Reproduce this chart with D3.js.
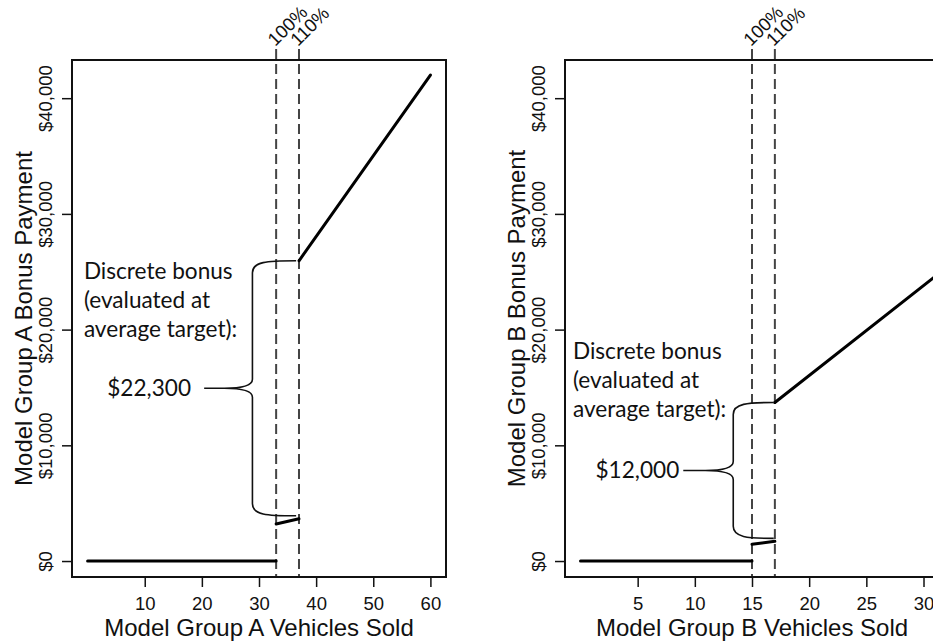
<!DOCTYPE html>
<html>
<head>
<meta charset="utf-8">
<script src="https://cdn.jsdelivr.net/npm/d3@7"></script>
<style>
  html, body { margin: 0; padding: 0; background: #fff; }
  svg { display: block; }
</style>
</head>
<body>
<svg id="chart" width="933" height="643"></svg>
<script>
// Tick values and labels
const xTicksA = [10, 20, 30, 40, 50, 60];
const xTicksB = [5, 10, 15, 20, 25, 30];
const yTicks = [0, 10000, 20000, 30000, 40000];
const targetLabels = ["100%", "110%"];

// Sales thresholds (100% and 110% of target)
const targetsA = [33, 37];
const targetsB = [15, 17];

// Discrete bonus paid when reaching the 110% threshold
const bonusA = 22300;
const bonusB = 12000;

// Payment schedule, Model Group A: [vehicles sold, bonus payment]
const baseA = [[0, 0], [33, 0]];
const tierA = [[33, 3200], [37, 3650]];
const stretchA = [[37, 3650 + bonusA], [60, 42000]];

// Payment schedule, Model Group B
const baseB = [[0, 0], [15, 0]];
const tierB = [[15, 1450], [17, 1700]];
const stretchB = [[17, 1700 + bonusB], [31, 24580]];

const svg = d3.select("#chart");
const plotTop = 60, plotBottom = 577;
const y = d3.scaleLinear().domain([-1380, 43300]).range([plotBottom, plotTop]);
const fmt = d => "$" + d3.format(",")(d);
const sans = "Liberation Sans, Arial, sans-serif";

const panels = [
  {
    left: 72, xDomain: [-2.73, 62.73], xTicks: xTicksA, targets: targetsA,
    series: [baseA, tierA, stretchA], bonus: bonusA,
    xTitle: "Model Group A Vehicles Sold", yTitle: "Model Group A Bonus Payment",
    note: { x: -0.65, y0: 279 }, brace: { x: 28.85, tip: 36.5, cusp: 20.4 }, labelX: 18.1
  },
  {
    left: 565, xDomain: [-1.355, 31.355], xTicks: xTicksB, targets: targetsB,
    series: [baseB, tierB, stretchB], bonus: bonusB,
    xTitle: "Model Group B Vehicles Sold", yTitle: "Model Group B Bonus Payment",
    note: { x: -0.66, y0: 359 }, brace: { x: 13.36, tip: 16.9, cusp: 8.99 }, labelX: 8.64
  }
];

const noteLines = ["Discrete bonus", "(evaluated at", "average target):"];
const line = d3.line().x(d => d[0]).y(d => d[1]);

panels.forEach(p => {
  const width = 374;
  const x = d3.scaleLinear().domain(p.xDomain).range([p.left, p.left + width]);
  const g = svg.append("g");

  // Threshold markers
  p.targets.forEach((t, i) => {
    g.append("line")
      .attr("x1", x(t)).attr("x2", x(t))
      .attr("y1", 49).attr("y2", plotBottom)
      .attr("stroke", "#444").attr("stroke-width", 2)
      .attr("stroke-dasharray", "10,5");
    g.append("text")
      .attr("transform", `translate(${x(t) - 1},47) rotate(-45)`)
      .attr("font-family", sans)
      .attr("font-size", 18.5)
      .attr("fill", "#111")
      .text(targetLabels[i]);
  });

  // Payment schedule
  p.series.forEach(s => {
    g.append("path")
      .attr("d", line(s.map(d => [x(d[0]), y(d[1])])))
      .attr("fill", "none").attr("stroke", "#000")
      .attr("stroke-width", 3).attr("stroke-linecap", "round");
  });

  // Box
  g.append("rect")
    .attr("x", p.left).attr("y", plotTop)
    .attr("width", width).attr("height", plotBottom - plotTop)
    .attr("fill", "none").attr("stroke", "#111").attr("stroke-width", 2);

  // X axis
  const xa = g.append("g").attr("transform", `translate(0,${plotBottom})`)
    .call(d3.axisBottom(x).tickValues(p.xTicks).tickSize(10).tickPadding(10));
  xa.select(".domain").remove();
  xa.selectAll("line").attr("stroke", "#111").attr("stroke-width", 1.5);
  xa.selectAll("text").attr("font-family", sans)
    .attr("font-size", 18.5).attr("fill", "#111");

  // Y axis
  const ya = g.append("g").attr("transform", `translate(${p.left},0)`)
    .call(d3.axisLeft(y).tickValues(yTicks).tickSize(10).tickFormat(fmt));
  ya.select(".domain").remove();
  ya.selectAll("line").attr("stroke", "#111").attr("stroke-width", 1.5);
  ya.selectAll("text")
    .attr("x", null).attr("dy", null)
    .attr("transform", "translate(-20,0) rotate(-90)")
    .attr("text-anchor", "middle")
    .attr("font-family", sans)
    .attr("font-size", 18.5).attr("fill", "#111");

  // Axis titles
  g.append("text")
    .attr("x", p.left + width / 2).attr("y", 636)
    .attr("text-anchor", "middle")
    .attr("font-family", sans)
    .attr("font-size", 24).attr("fill", "#111")
    .text(p.xTitle);
  g.append("text")
    .attr("transform", `translate(${p.left - 40.5},${(plotTop + plotBottom) / 2}) rotate(-90)`)
    .attr("text-anchor", "middle")
    .attr("font-family", sans)
    .attr("font-size", 24).attr("fill", "#111")
    .text(p.yTitle);

  // Annotation text
  noteLines.forEach((t, i) => {
    g.append("text")
      .attr("x", x(p.note.x)).attr("y", p.note.y0 + i * 29)
      .attr("font-family", "Lato, sans-serif")
      .attr("font-size", 22.6).attr("fill", "#111")
      .text(t);
  });

  // Curly brace spanning the discrete jump
  const tier = p.series[1], stretch = p.series[2];
  const yT = y(stretch[0][1]);
  const yB = y(tier[1][1]) - 3;
  const yM = (yT + yB) / 2;
  const xv = x(p.brace.x), xt = x(p.brace.tip), xc = x(p.brace.cusp);
  const path = [
    `M${xt},${yT}`,
    `C${xv + 14},${yT} ${xv},${yT + 1} ${xv},${yT + 12}`,
    `L${xv},${yM - 9}`,
    `C${xv},${yM - 2} ${xv - 12},${yM} ${xv - 28},${yM}`,
    `L${xc},${yM}`,
    `M${xv - 28},${yM}`,
    `C${xv - 12},${yM} ${xv},${yM + 2} ${xv},${yM + 9}`,
    `L${xv},${yB - 12}`,
    `C${xv},${yB - 1} ${xv + 14},${yB} ${xt},${yB}`
  ].join(" ");
  g.append("path").attr("d", path)
    .attr("fill", "none").attr("stroke", "#111").attr("stroke-width", 1.6);

  g.append("text")
    .attr("x", x(p.labelX)).attr("y", yM + 8)
    .attr("text-anchor", "end")
    .attr("font-family", "Lato, sans-serif")
    .attr("font-size", 22.6).attr("fill", "#111")
    .text(fmt(p.bonus));
});
</script>
</body>
</html>
